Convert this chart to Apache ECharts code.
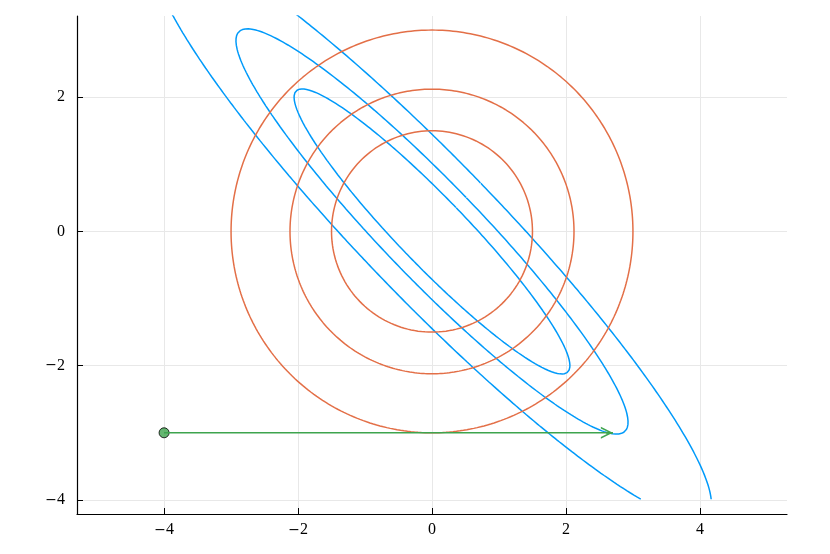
<!DOCTYPE html>
<html>
<head>
<meta charset="utf-8">
<script src="https://cdn.jsdelivr.net/npm/echarts@6/dist/echarts.min.js"></script>
<style>
  html, body { margin: 0; padding: 0; background: #fff; }
  #chart { width: 830px; height: 554px; }
</style>
</head>
<body>
<div id="chart"></div>
<script>
// quadratic form a*x^2 + 2*b*x*y + c*y^2
const quadCoef = [1.0, 0.913, 0.94];
const blueLevels = [0.48, 0.97, 1.97];
const contourYMin = -4;
// orange circles (radius)
const circleRadii = [1.5, 2.12, 3.0];
// green arrow
const arrowStart = [-4, -3];
const arrowEnd = [2.7, -3];
// axes
const xTicks = [-4, -2, 0, 2, 4];
const yTicks = [-4, -2, 0, 2];
const xRange = [-5.3, 5.3];
const yRange = [-4.21, 3.21];

const BLUE = '#009AFA', ORANGE = '#E36F47', GREEN = '#3EA44E';

// trace a level curve of the quadratic form, split where it leaves the contour domain
function levelCurve(level) {
    let [a, b, c] = quadCoef;
    let steps = 1440, runs = [], cur = [];
    for (let i = 0; i <= steps; i++) {
        let t = Math.PI / 4 + 2 * Math.PI * i / steps;
        let co = Math.cos(t), si = Math.sin(t);
        let r = Math.sqrt(level / (a * co * co + 2 * b * co * si + c * si * si));
        let p = [r * co, r * si];
        if (p[1] >= contourYMin) {
            cur.push(p);
        } else if (cur.length) {
            runs.push(cur); cur = [];
        }
    }
    if (cur.length) runs.push(cur);
    return runs;
}

function circle(r) {
    let pts = [];
    for (let i = 0; i <= 360; i++) {
        let t = 2 * Math.PI * i / 360;
        pts.push([r * Math.cos(t), r * Math.sin(t)]);
    }
    return pts;
}

function lineSeries(data, color) {
    return {
        type: 'line', data: data, showSymbol: false, symbol: 'none',
        lineStyle: { color: color, width: 1.5 }, silent: true, animation: false
    };
}

let series = [];
blueLevels.forEach(l => levelCurve(l).forEach(run => series.push(lineSeries(run, BLUE))));
circleRadii.forEach(r => series.push(lineSeries(circle(r), ORANGE)));

let arrow = lineSeries([arrowStart, arrowEnd], GREEN);
arrow.markLine = {
    silent: true, animation: false,
    symbol: ['none', 'path://M6,0 L12,12 L10.3,12 L6,3.4 L1.7,12 L0,12 Z'],
    symbolSize: [12, 12],
    symbolOffset: [[0, 0], [0, 6]],
    label: { show: false },
    lineStyle: { color: GREEN, width: 1.5, type: 'solid' },
    data: [[{ coord: [arrowEnd[0] - 0.1, arrowEnd[1]] }, { coord: arrowEnd }]]
};
series.push(arrow);
series.push({
    type: 'scatter', data: [arrowStart], symbol: 'circle', symbolSize: 10,
    itemStyle: { color: GREEN, borderColor: '#000', borderWidth: 1 },
    silent: true, animation: false
});

// tick label: wide minus like the TeX one, digits in a serif face
const tickFmt = v => v < 0 ? '{m|\u2212}{d|' + (-v) + '}' : '{d|' + v + '}';
const tickRich = {
    m: { fontFamily: 'DejaVu Serif', fontSize: 14, color: '#000' },
    d: { fontFamily: 'Liberation Serif', fontSize: 16, color: '#000' }
};

let option = {
    animation: false,
    grid: { left: 77, right: 43, top: 16, bottom: 40, containLabel: false },
    xAxis: {
        type: 'value', min: xRange[0], max: xRange[1], position: 'bottom',
        axisLine: { onZero: false, lineStyle: { color: '#000', width: 1.2 } },
        axisTick: { inside: true, length: 6, customValues: xTicks, lineStyle: { color: '#000' } },
        axisLabel: { customValues: xTicks, formatter: tickFmt, rich: tickRich, margin: 8 },
        splitLine: { show: true, lineStyle: { color: '#e8e8e8', width: 1 } }
    },
    yAxis: {
        type: 'value', min: yRange[0], max: yRange[1], position: 'left',
        axisLine: { onZero: false, lineStyle: { color: '#000', width: 1.2 } },
        axisTick: { inside: true, length: 6, customValues: yTicks, lineStyle: { color: '#000' } },
        axisLabel: { customValues: yTicks, formatter: tickFmt, rich: tickRich, margin: 12 },
        splitLine: { show: true, lineStyle: { color: '#e8e8e8', width: 1 } }
    },
    series: series
};

let chart = echarts.init(document.getElementById('chart'), null, { renderer: 'canvas' });
chart.setOption(option);
</script>
</body>
</html>
